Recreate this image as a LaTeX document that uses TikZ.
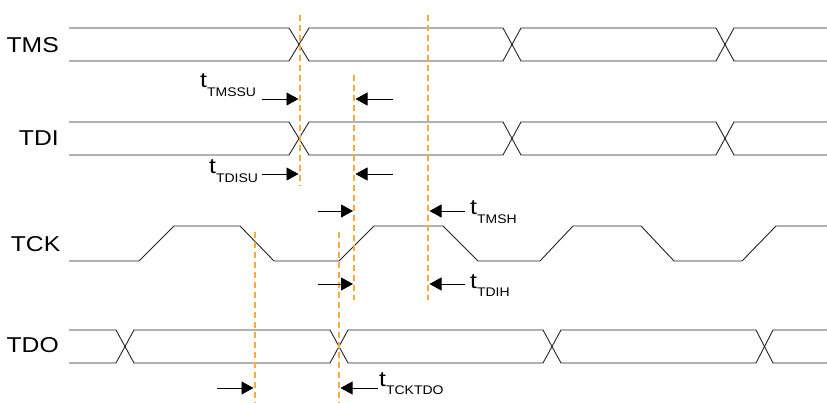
\documentclass[tikz,border=0pt]{standalone}
\usepackage{fontspec}
\setmainfont{Liberation Sans}
\usetikzlibrary{arrows.meta}
\definecolor{dashor}{RGB}{247,172,60}
\definecolor{sig}{RGB}{35,35,35}
\newcommand{\wideT}[1]{\scalebox{1.15}[1]{#1}}
\newcommand{\wideS}[1]{\scalebox{1.12}[1]{#1}}
\newcommand{\tsub}[1]{\wideT{t}\raisebox{-8.5pt}{\fontsize{12.5}{12.5}\selectfont\wideS{#1}}}
\tikzset{
  siglabel/.style={anchor=base east, inner sep=0pt, font=\fontsize{21.5}{22}\selectfont},
  tlabel/.style={anchor=base west, inner sep=0pt, font=\fontsize{21.5}{22}\selectfont},
  wave/.style={draw=sig, line width=0.9pt, line join=miter},
  tmark/.style={draw=dashor, line width=2pt, dash pattern=on 6pt off 4pt},
  conn/.style={draw=black, line width=0.9pt, -{Triangle[length=12pt,width=13pt]}}
}
\begin{document}
\begin{tikzpicture}[x=1pt,y=-1pt]
\useasboundingbox (0,0) rectangle (827,403);
% signal labels
\node[siglabel] (lTMS) at (59,52.5) {\wideT{TMS}};
\node[siglabel] (lTDI) at (59,146) {\wideT{TDI}};
\node[siglabel] (lTCK) at (60.5,252) {\wideT{TCK}};
\node[siglabel] (lTDO) at (59,352) {\wideT{TDO}};
% TMS
\draw[wave] (69,28) -- (289,28) -- (309,61) -- (503,61) -- (521,28) -- (716,28) -- (734,61) -- (827,61);
\draw[wave] (69,61) -- (289,61) -- (309,28) -- (503,28) -- (521,61) -- (716,61) -- (734,28) -- (827,28);
% TDI
\draw[wave] (69,122) -- (289,122) -- (309,155) -- (503,155) -- (521,122) -- (716,122) -- (734,155) -- (827,155);
\draw[wave] (69,155) -- (289,155) -- (309,122) -- (503,122) -- (521,155) -- (716,155) -- (734,122) -- (827,122);
% TCK
\draw[wave] (69,261) -- (139,261) -- (174,226) -- (240,226) -- (274,261) -- (339,261) -- (374,226) -- (443,226) -- (478,261) -- (540,261) -- (573,226) -- (641,226) -- (674,261) -- (742,261) -- (776,226) -- (827,226);
% TDO
\draw[wave] (69,330) -- (116,330) -- (134,363) -- (330,363) -- (348,330) -- (543,330) -- (561,363) -- (756,363) -- (773,330) -- (827,330);
\draw[wave] (69,363) -- (116,363) -- (134,330) -- (330,330) -- (348,363) -- (543,363) -- (561,330) -- (756,330) -- (773,363) -- (827,363);
% timing marks
\coordinate (m1t) at (300,15);  \coordinate (m1b) at (300,186);
\coordinate (m2t) at (354,75);  \coordinate (m2b) at (354,300);
\coordinate (m3t) at (428,15);  \coordinate (m3b) at (428,300);
\coordinate (m4t) at (255,232); \coordinate (m4b) at (255,403);
\coordinate (m5t) at (339,232); \coordinate (m5b) at (339,403);
\draw[tmark] (m1t) -- (m1b);
\draw[tmark] (m2t) -- (m2b);
\draw[tmark] (m3t) -- (m3b);
\draw[tmark] (m4t) -- (m4b);
\draw[tmark] (m5t) -- (m5b);
% arrows
\coordinate (a1s) at (262,99);  \coordinate (a1e) at (298.5,99);
\coordinate (a2s) at (393,99);  \coordinate (a2e) at (355.5,99);
\coordinate (a3s) at (262,174); \coordinate (a3e) at (298.5,174);
\coordinate (a4s) at (393,174); \coordinate (a4e) at (355.5,174);
\coordinate (a5s) at (318,211); \coordinate (a5e) at (353,211);
\coordinate (a6s) at (465,211); \coordinate (a6e) at (429.5,211);
\coordinate (a7s) at (318,284); \coordinate (a7e) at (353,284);
\coordinate (a8s) at (465,284); \coordinate (a8e) at (429.5,284);
\coordinate (a9s) at (217,388); \coordinate (a9e) at (253.5,388);
\coordinate (a10s) at (378,388); \coordinate (a10e) at (340.5,388);
\draw[conn] (a1s) -- (a1e);
\draw[conn] (a2s) -- (a2e);
\draw[conn] (a3s) -- (a3e);
\draw[conn] (a4s) -- (a4e);
\draw[conn] (a5s) -- (a5e);
\draw[conn] (a6s) -- (a6e);
\draw[conn] (a7s) -- (a7e);
\draw[conn] (a8s) -- (a8e);
\draw[conn] (a9s) -- (a9e);
\draw[conn] (a10s) -- (a10e);
% timing labels
\node[tlabel] (tTMSSU) at (200,88) {\tsub{TMSSU}};
\node[tlabel] (tTDISU) at (209,174) {\tsub{TDISU}};
\node[tlabel] (tTMSH) at (470,215) {\tsub{TMSH}};
\node[tlabel] (tTDIH) at (470,288) {\tsub{TDIH}};
\node[tlabel] (tTCKTDO) at (379,386) {\tsub{TCKTDO}};
\end{tikzpicture}
\end{document}
